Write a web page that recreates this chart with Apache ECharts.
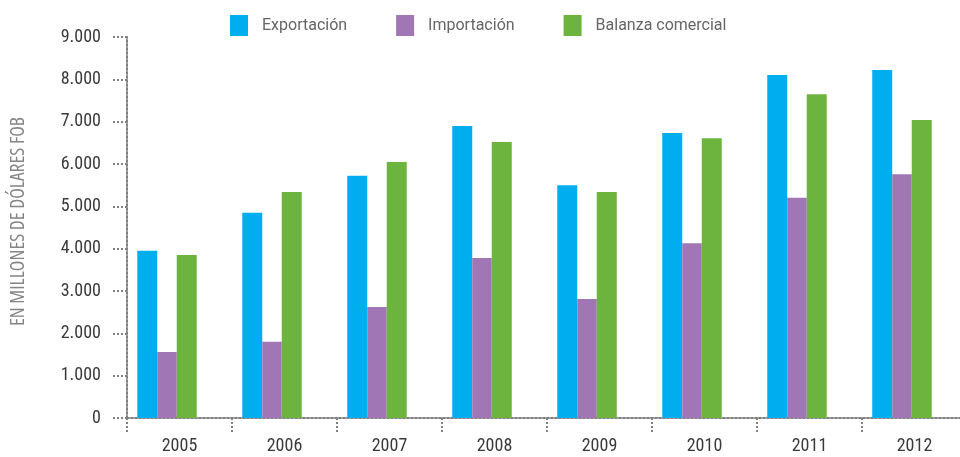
<!DOCTYPE html>
<html>
<head>
<meta charset="utf-8">
<script src="https://cdn.jsdelivr.net/npm/echarts@6/dist/echarts.min.js"></script>
<style>
  html, body { margin: 0; padding: 0; background: #fff; }
  #chart { width: 960px; height: 457px; }
</style>
</head>
<body>
<div id="chart"></div>
<script>
  // datos (millones de dolares FOB)
  var years = ['2005', '2006', '2007', '2008', '2009', '2010', '2011', '2012'];
  var exportacion = [3950, 4850, 5720, 6900, 5500, 6730, 8100, 8220];
  var importacion = [1560, 1800, 2620, 3780, 2810, 4130, 5200, 5760];
  var balanza = [3850, 5340, 6050, 6520, 5340, 6610, 7650, 7040];
  var yTicks = ['0', '1.000', '2.000', '3.000', '4.000', '5.000', '6.000', '7.000', '8.000', '9.000'];

  var dotted = { color: '#808080', width: 2, type: 'dotted' };
  // fuentes variables: 'condensed' en fontStyle da el ancho estrecho
  var condensado = { fontStyle: 'condensed', fontFamily: 'Roboto', fontSize: 18, color: '#3a3a3a' };

  var myChart = echarts.init(document.getElementById('chart'));
  myChart.setOption({
    animation: false,
    legend: {
      data: ['Exportación', 'Importación', 'Balanza comercial'],
      left: 230,
      top: 15,
      padding: 0,
      icon: 'rect',
      itemWidth: 18,
      itemHeight: 21,
      itemGap: 49,
      textStyle: { fontFamily: 'Roboto', fontSize: 16, color: '#666', padding: [2, 0, 0, 9] }
    },
    grid: { left: 127, right: -7, top: 37, bottom: 39, containLabel: false, outerBoundsMode: 'none' },
    xAxis: {
      type: 'category',
      data: years,
      axisLine: { lineStyle: dotted },
      axisTick: { show: true, length: 15, lineStyle: dotted },
      axisLabel: Object.assign({ margin: 19 }, condensado)
    },
    yAxis: {
      type: 'value',
      min: 0,
      max: 9000,
      interval: 1000,
      name: 'EN MILLONES DE DÓLARES FOB',
      nameLocation: 'middle',
      nameGap: 99,
      nameRotate: 90,
      nameTextStyle: { fontStyle: 'condensed', fontFamily: 'Open Sans', fontSize: 19.5, color: '#858585', padding: [0, 0, 0, 12] },
      axisLine: { show: true, lineStyle: dotted },
      axisTick: { show: true, length: 15, lineStyle: dotted },
      splitLine: { show: false },
      axisLabel: Object.assign({
        margin: 26,
        formatter: function (v) { return yTicks[Math.round(v / 1000)]; }
      }, condensado)
    },
    series: [
      { name: 'Exportación', type: 'bar', data: exportacion, barWidth: 20, barGap: 0, itemStyle: { color: '#00AEEF' } },
      { name: 'Importación', type: 'bar', data: importacion, barWidth: 19.5, barGap: 0, itemStyle: { color: '#A077B4' } },
      { name: 'Balanza comercial', type: 'bar', data: balanza, barWidth: 20, barGap: 0, itemStyle: { color: '#6DB43F' } },
      // hueco vacio para desplazar los grupos a la izquierda como en el original
      { name: 'espacio', type: 'bar', data: [], barWidth: 25, barGap: 0, silent: true }
    ]
  });
</script>
</body>
</html>
